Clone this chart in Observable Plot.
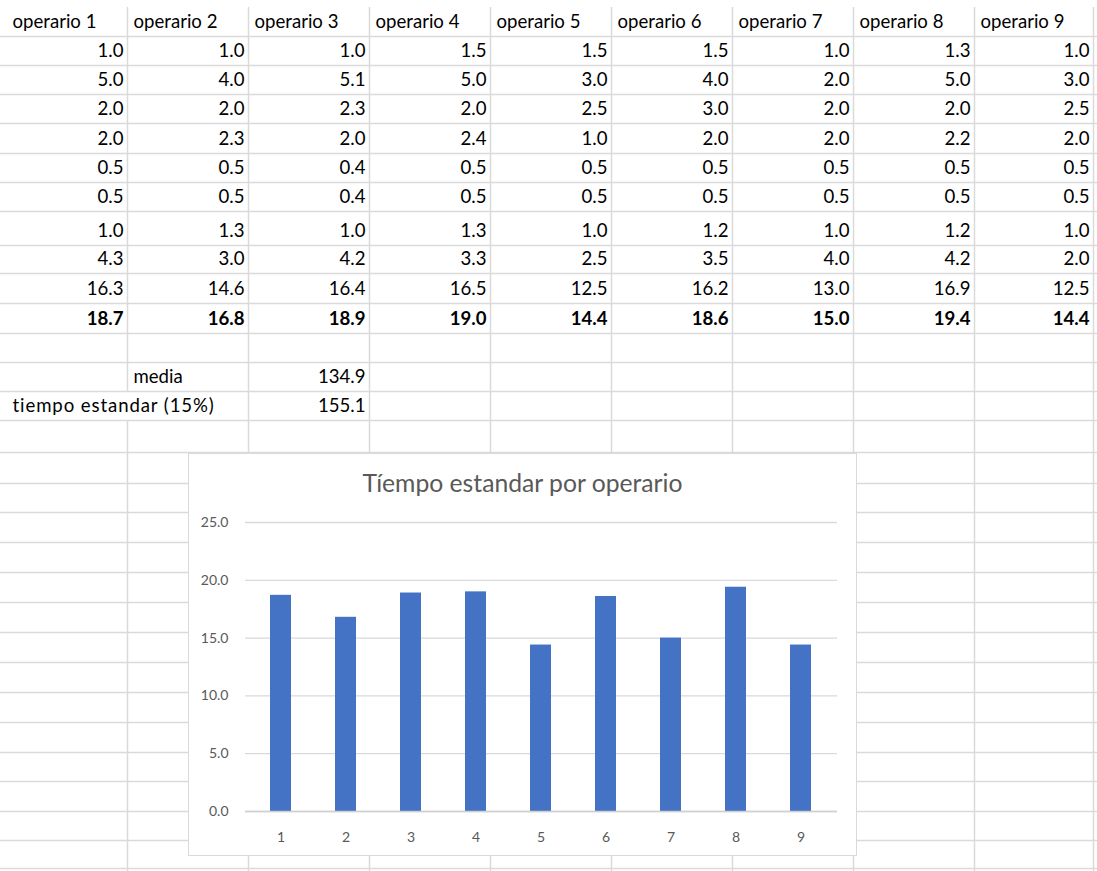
<!DOCTYPE html>
<html>
<head>
<meta charset="utf-8">
<script src="https://cdn.jsdelivr.net/npm/d3@7"></script>
<script src="https://cdn.jsdelivr.net/npm/@observablehq/plot@0.6"></script>
<style>
  html, body { margin: 0; padding: 0; background: #fff; }
  #sheet { position: relative; width: 1097px; height: 871px; overflow: hidden; font-family: Lato, "Open Sans", sans-serif; }
  #grid { position: absolute; left: 0; top: 0; }
  #chart { position: absolute; left: 188px; top: 453px; width: 669px; height: 403px; box-sizing: border-box;
           background: #fff; border: 1px solid #d9d9d9; }
  #title { position: absolute; left: 0; right: 0; top: 14px; text-align: center; font-size: 24.7px; line-height: 30px; color: #595959; }
  #plot { position: absolute; left: 0; top: 39px; }
</style>
</head>
<body>
<div id="sheet">
  <div id="chart"><div id="title"></div><div id="plot"></div></div>
</div>
<script>
// ---- data ----
const headers = ["operario 1", "operario 2", "operario 3", "operario 4", "operario 5", "operario 6", "operario 7", "operario 8", "operario 9"];
const row1 = [1.0, 1.0, 1.0, 1.5, 1.5, 1.5, 1.0, 1.3, 1.0];
const row2 = [5.0, 4.0, 5.1, 5.0, 3.0, 4.0, 2.0, 5.0, 3.0];
const row3 = [2.0, 2.0, 2.3, 2.0, 2.5, 3.0, 2.0, 2.0, 2.5];
const row4 = [2.0, 2.3, 2.0, 2.4, 1.0, 2.0, 2.0, 2.2, 2.0];
const row5 = [0.5, 0.5, 0.4, 0.5, 0.5, 0.5, 0.5, 0.5, 0.5];
const row6 = [0.5, 0.5, 0.4, 0.5, 0.5, 0.5, 0.5, 0.5, 0.5];
const row7 = [1.0, 1.3, 1.0, 1.3, 1.0, 1.2, 1.0, 1.2, 1.0];
const row8 = [4.3, 3.0, 4.2, 3.3, 2.5, 3.5, 4.0, 4.2, 2.0];
const totals = [16.3, 14.6, 16.4, 16.5, 12.5, 16.2, 13.0, 16.9, 12.5];
const estandar = [18.7, 16.8, 18.9, 19.0, 14.4, 18.6, 15.0, 19.4, 14.4];
const mediaLabel = "media";
const mediaValue = 134.9;
const stdLabel = "tiempo estandar (15%)";
const stdValue = 155.1;
const chartTitle = "Tíempo estandar por operario";
const operarioNums = ["1", "2", "3", "4", "5", "6", "7", "8", "9"];
const yTicks = [0, 5, 10, 15, 20, 25];

// ---- spreadsheet layout ----
const colEdges = [6.5, 127.5, 248.5, 369.5, 490.5, 611.5, 732.5, 853.5, 974.5, 1093.5];
const rowEdges = [7, 36, 65, 94, 123, 153, 182, 211, 245, 273, 303, 333, 362, 391, 420, 452, 483, 512, 542, 572, 602, 632, 662, 692, 722, 752, 781, 811, 840, 868, 898];
const gridColor = "#dadada";
const fontSize = 18.6;

const svg = d3.select("#sheet").insert("svg", "#chart").attr("id", "grid").attr("width", 1097).attr("height", 871);
rowEdges.slice(1).forEach(y => {
  svg.append("line").attr("x1", 0).attr("x2", 1097).attr("y1", y + 0.5).attr("y2", y + 0.5)
    .attr("stroke", gridColor).attr("stroke-width", 1.5);
});
colEdges.slice(1).forEach((x, i) => {
  const segs = (i === 0) ? [[7, 391], [420, 871]] : [[7, 871]];
  segs.forEach(([a, b]) => svg.append("line").attr("x1", x).attr("x2", x).attr("y1", a).attr("y2", b)
    .attr("stroke", gridColor).attr("stroke-width", 1.5));
});

function cellText(text, col, row, align, bold, spacing) {
  const y = rowEdges[row + 1] - 8;
  const x = align === "left" ? colEdges[col] + 6 : colEdges[col + 1] - 4;
  const t = svg.append("text").attr("x", x).attr("y", y)
    .attr("text-anchor", align === "left" ? "start" : "end")
    .attr("font-size", fontSize).attr("font-weight", bold ? 700 : 400)
    .attr("fill", "#000").text(text);
  if (spacing) t.attr("letter-spacing", spacing);
}
headers.forEach((h, c) => cellText(h, c, 0, "left"));
[row1, row2, row3, row4, row5, row6, row7, row8, totals, estandar].forEach((arr, r) => {
  arr.forEach((v, c) => cellText(v.toFixed(1), c, r + 1, "right", r === 9));
});
cellText(mediaLabel, 1, 12, "left");
cellText(mediaValue.toFixed(1), 2, 12, "right");
cellText(stdLabel, 0, 13, "left", false, 0.9);
cellText(stdValue.toFixed(1), 2, 13, "right");

// ---- chart ----
document.getElementById("title").textContent = chartTitle;
const chartData = operarioNums.map((n, i) => ({op: n, v: estandar[i]}));
const plot = Plot.plot({
  width: 667,
  height: 362,
  marginTop: 29,
  marginBottom: 44,
  marginLeft: 56,
  marginRight: 19,
  style: {fontFamily: "Lato, 'Open Sans', sans-serif", fontSize: "14px", color: "#595959", background: "transparent"},
  x: {domain: operarioNums, paddingInner: 0.67, paddingOuter: 0.335},
  y: {domain: [0, 25]},
  marks: [
    Plot.gridY(yTicks, {stroke: "#d9d9d9", strokeOpacity: 1, strokeWidth: 1.3}),
    Plot.barY(chartData, {x: "op", y: "v", fill: "#4472C4"}),
    Plot.ruleY([0], {stroke: "#d0d0d0", strokeWidth: 1.5}),
    Plot.axisY({ticks: yTicks, tickSize: 0, tickPadding: 17, tickFormat: d => d.toFixed(1), fill: "#595959", label: null}),
    Plot.axisX({tickSize: 0, tickPadding: 21, fill: "#595959", label: null})
  ]
});
document.getElementById("plot").appendChild(plot);
</script>
</body>
</html>
